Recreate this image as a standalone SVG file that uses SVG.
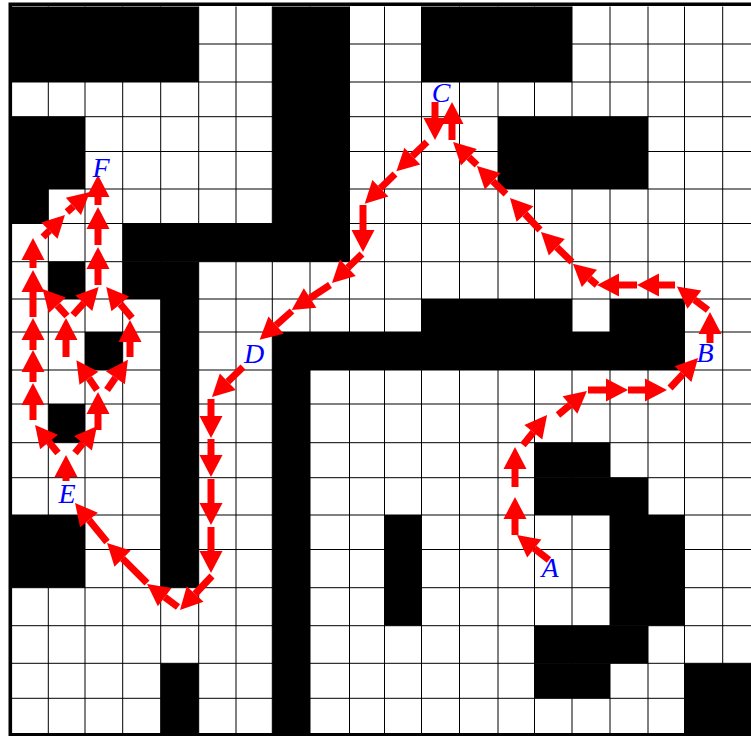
<svg xmlns="http://www.w3.org/2000/svg" width="751" height="736" viewBox="0 0 751 736">
<style>
.blk{fill:#000}
.grid{stroke:#000;stroke-width:1;fill:none}
.a{stroke:#f00;stroke-width:7;fill:none;marker-end:url(#ah)}
.lbl{font-family:"Liberation Serif","Times New Roman",serif;font-style:italic;font-size:28px;fill:#00f;text-anchor:middle}
</style>
<defs>
<marker id="ah" markerUnits="userSpaceOnUse" markerWidth="22" markerHeight="23" viewBox="0 0 22 23" refX="0" refY="11.5" orient="auto" overflow="visible">
<path d="M0,0 L22,11.5 L0,23 z" fill="#f00"/>
</marker>
</defs>
<rect x="0" y="0" width="751" height="736" fill="#fff"/>
<g id="walls">
<rect class="blk" x="10.5" y="6.5" width="188.2" height="75.5"/>
<rect class="blk" x="272.3" y="6.5" width="77.2" height="255.2"/>
<rect class="blk" x="421.5" y="6.5" width="150.5" height="75.5"/>
<rect class="blk" x="10.5" y="116.7" width="74.5" height="72.3"/>
<rect class="blk" x="10.5" y="189" width="37.8" height="34.5"/>
<rect class="blk" x="498" y="116.7" width="150" height="72.3"/>
<rect class="blk" x="122.7" y="223.5" width="226.8" height="38.2"/>
<rect class="blk" x="122.7" y="261.7" width="76" height="37.3"/>
<rect class="blk" x="160.7" y="299" width="38" height="288.7"/>
<rect class="blk" x="48.3" y="261.7" width="36.7" height="37.3"/>
<rect class="blk" x="421.5" y="299" width="150.5" height="33"/>
<rect class="blk" x="610" y="299" width="74.5" height="33"/>
<rect class="blk" x="272.3" y="332" width="412.2" height="38"/>
<rect class="blk" x="85" y="332" width="37.7" height="38"/>
<rect class="blk" x="272.3" y="370" width="37.7" height="365"/>
<rect class="blk" x="48.3" y="404" width="36.7" height="38.7"/>
<rect class="blk" x="534.5" y="442.7" width="75.5" height="35"/>
<rect class="blk" x="534.5" y="477.7" width="113.5" height="37.3"/>
<rect class="blk" x="610" y="515" width="74.5" height="110.7"/>
<rect class="blk" x="10.5" y="515" width="74.5" height="72.7"/>
<rect class="blk" x="384.5" y="515" width="37" height="110.7"/>
<rect class="blk" x="534.5" y="625.7" width="113.5" height="37.6"/>
<rect class="blk" x="534.5" y="663.3" width="75.5" height="35"/>
<rect class="blk" x="684.5" y="663.3" width="75.5" height="71.7"/>
<rect class="blk" x="160.7" y="663.3" width="38" height="71.7"/>
</g>
<g id="grid">
<path class="grid" d="M48.3,6.5V735 M85,6.5V735 M122.7,6.5V735 M160.7,6.5V735 M198.7,6.5V735 M236,6.5V735 M272.3,6.5V735 M310,6.5V735 M349.5,6.5V735 M384.5,6.5V735 M421.5,6.5V735 M459.5,6.5V735 M498,6.5V735 M534.5,6.5V735 M572,6.5V735 M610,6.5V735 M648,6.5V735 M684.5,6.5V735 M722.7,6.5V735
M10.5,44H751 M10.5,82H751 M10.5,116.7H751 M10.5,151.5H751 M10.5,189H751 M10.5,223.5H751 M10.5,261.7H751 M10.5,299H751 M10.5,332H751 M10.5,370H751 M10.5,404H751 M10.5,442.7H751 M10.5,477.7H751 M10.5,515H751 M10.5,549.5H751 M10.5,587.7H751 M10.5,625.7H751 M10.5,663.3H751 M10.5,698.3H751"/>
<path d="M10.3,4V736 M8.5,4.3H751 M8.5,734.8H751" stroke="#000" stroke-width="3.6" fill="none"/>
</g>
<g id="connectors">
<line class="a" x1="549" y1="560" x2="534.3" y2="548.5"/>
<line class="a" x1="515" y1="535" x2="515" y2="519"/>
<line class="a" x1="515" y1="487" x2="515" y2="469"/>
<line class="a" x1="523" y1="445" x2="533.3" y2="432.2"/>
<line class="a" x1="558" y1="415" x2="570" y2="405"/>
<line class="a" x1="588" y1="390" x2="606" y2="390"/>
<line class="a" x1="628" y1="390" x2="645" y2="390"/>
<line class="a" x1="670" y1="388" x2="683" y2="374.1"/>
<line class="a" x1="710" y1="343" x2="710" y2="334"/>
<line class="a" x1="708" y1="310" x2="694.4" y2="299.7"/>
<line class="a" x1="675" y1="285" x2="659" y2="285"/>
<line class="a" x1="637" y1="285" x2="619" y2="285"/>
<line class="a" x1="597" y1="285" x2="589.4" y2="278.3"/>
<line class="a" x1="572" y1="262" x2="556.8" y2="247.3"/>
<line class="a" x1="540" y1="230" x2="525" y2="214"/>
<line class="a" x1="506" y1="194" x2="492.8" y2="181.3"/>
<line class="a" x1="477" y1="165" x2="468.9" y2="157.2"/>
<line class="a" x1="452" y1="140" x2="452" y2="124"/>
<line class="a" x1="435" y1="102" x2="435" y2="118"/>
<line class="a" x1="427" y1="142" x2="412.3" y2="156.1"/>
<line class="a" x1="395" y1="174" x2="380.4" y2="188.3"/>
<line class="a" x1="363" y1="205" x2="363" y2="230"/>
<line class="a" x1="362" y1="254" x2="347.8" y2="267.7"/>
<line class="a" x1="330" y1="285" x2="310.1" y2="298"/>
<line class="a" x1="292" y1="311" x2="276.1" y2="325.1"/>
<line class="a" x1="243" y1="367" x2="227.8" y2="381.7"/>
<line class="a" x1="211" y1="399" x2="211" y2="416"/>
<line class="a" x1="211" y1="439" x2="211" y2="455"/>
<line class="a" x1="211" y1="479" x2="211" y2="503"/>
<line class="a" x1="211" y1="527" x2="211" y2="551"/>
<line class="a" x1="212" y1="576" x2="195.1" y2="594"/>
<line class="a" x1="178" y1="607" x2="164.7" y2="597.1"/>
<line class="a" x1="147" y1="583" x2="122.6" y2="558.6"/>
<line class="a" x1="107" y1="542" x2="89" y2="520"/>
<line class="a" x1="66" y1="481" x2="66" y2="477"/>
<line class="a" x1="58" y1="453" x2="49" y2="442"/>
<line class="a" x1="75" y1="453" x2="83" y2="443.2"/>
<line class="a" x1="33" y1="420" x2="33" y2="405"/>
<line class="a" x1="33" y1="382" x2="33" y2="372"/>
<line class="a" x1="33" y1="350" x2="33" y2="340"/>
<line class="a" x1="33" y1="317" x2="33" y2="292"/>
<line class="a" x1="33" y1="268" x2="33" y2="260"/>
<line class="a" x1="43" y1="237" x2="49.4" y2="230.6"/>
<line class="a" x1="67" y1="212" x2="73.4" y2="206.4"/>
<line class="a" x1="98" y1="285" x2="98" y2="269"/>
<line class="a" x1="98" y1="245" x2="98" y2="229"/>
<line class="a" x1="98" y1="205" x2="98" y2="197"/>
<line class="a" x1="98" y1="430" x2="98" y2="414"/>
<line class="a" x1="97" y1="390" x2="88.9" y2="378.3"/>
<line class="a" x1="107" y1="390" x2="115.4" y2="377.8"/>
<line class="a" x1="66" y1="357" x2="66" y2="340"/>
<line class="a" x1="130" y1="357" x2="130" y2="342"/>
<line class="a" x1="67" y1="316" x2="57.3" y2="305.3"/>
<line class="a" x1="73" y1="315" x2="83.8" y2="303.2"/>
<line class="a" x1="132" y1="318" x2="120.3" y2="303.9"/>
</g>
<g id="A"><text class="lbl" x="550" y="577">A</text></g>
<g id="B"><text class="lbl" x="705" y="362">B</text></g>
<g id="C"><text class="lbl" x="441" y="102">C</text></g>
<g id="D"><text class="lbl" x="254" y="363">D</text></g>
<g id="E"><text class="lbl" x="67" y="503">E</text></g>
<g id="F"><text class="lbl" x="101" y="177">F</text></g>
</svg>
